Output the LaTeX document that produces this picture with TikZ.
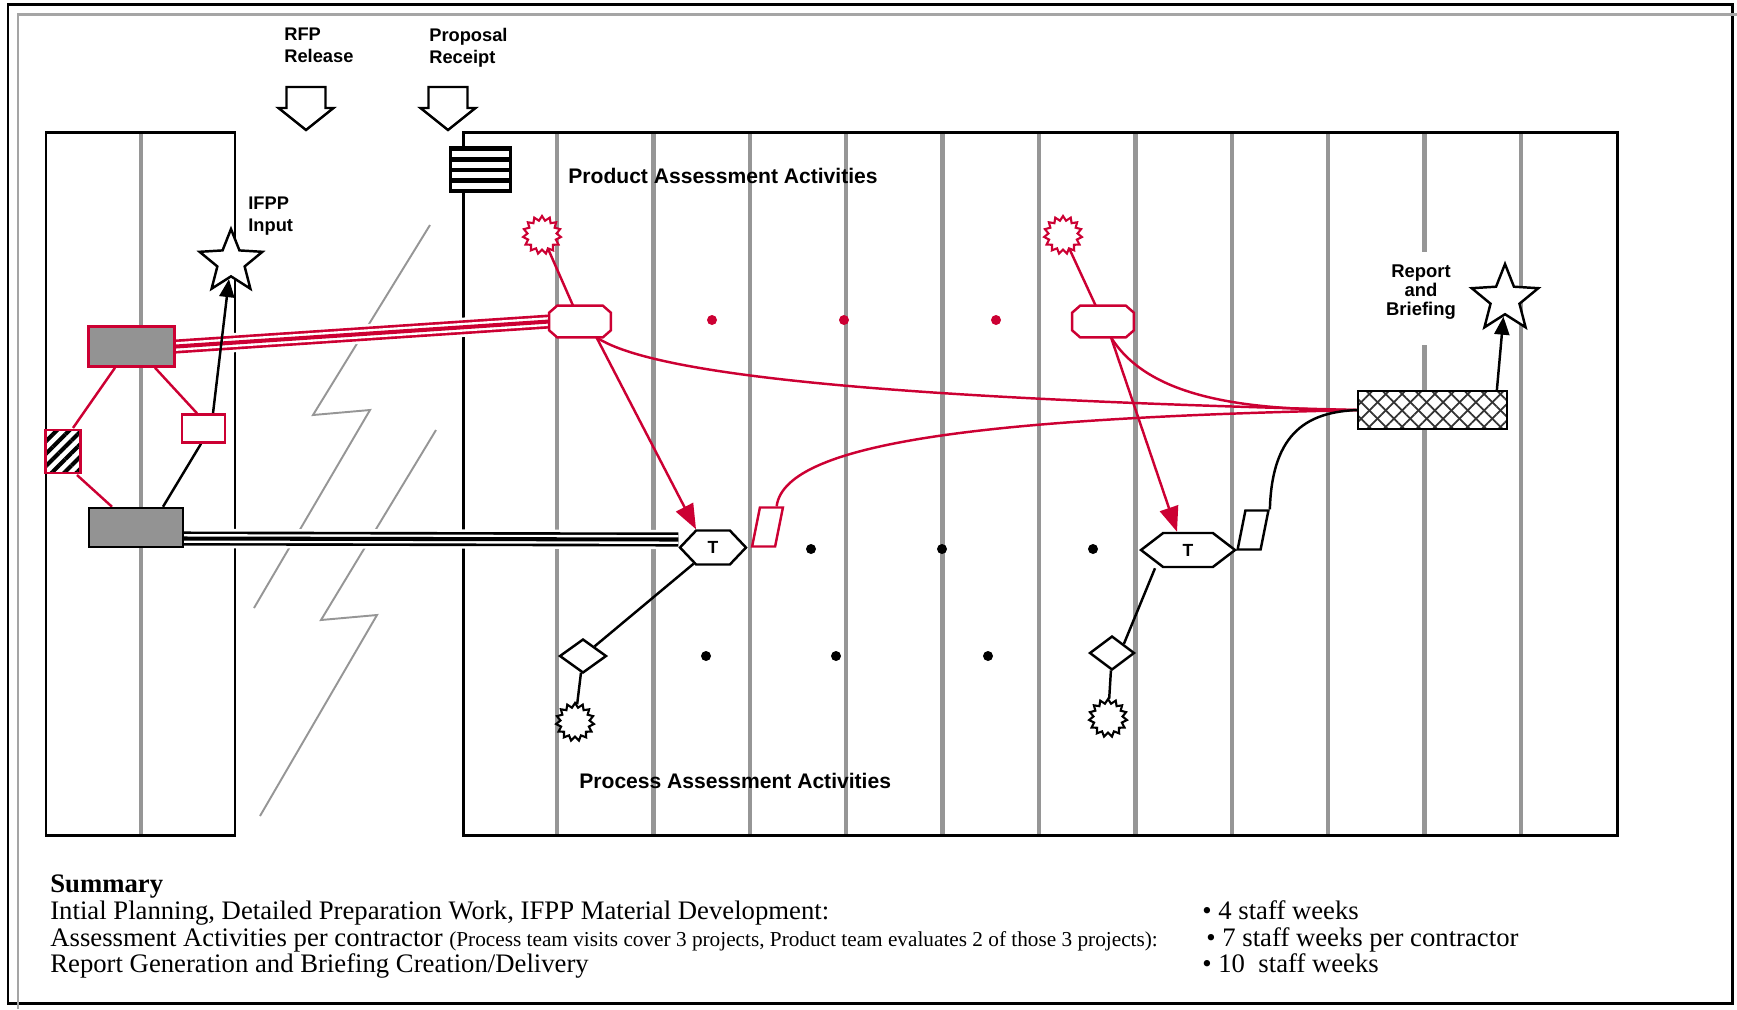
\documentclass[tikz,border=0pt]{standalone}
\usepackage{fontspec}
\setmainfont{Liberation Serif}
\setsansfont{Liberation Sans}
\usetikzlibrary{shapes,shapes.geometric,shapes.misc,shapes.symbols}
\usetikzlibrary{arrows.meta,patterns.meta,backgrounds}
\definecolor{lanegrey}{RGB}{150,150,150}
\definecolor{framegrey}{RGB}{165,165,165}
\definecolor{boxgrey}{RGB}{147,147,147}
\definecolor{rosso}{RGB}{204,0,51}
\tikzstyle{frame} = [black, line width=1.7pt]
\tikzstyle{lane} = [lanegrey, line width=2.5pt]
\tikzstyle{zigzag} = [lanegrey, line width=1.1pt]
\tikzstyle{redbox} = [rectangle, draw=rosso, line width=1.4pt, inner sep=0pt]
\tikzstyle{blackbox} = [rectangle, draw=black, line width=1.4pt, inner sep=0pt]
\tikzstyle{octo} = [rectangle, minimum width=1.22cm, minimum height=0.62cm, inner sep=0pt]
\tikzstyle{octoline} = [draw=rosso, fill=white, line width=1.4pt]
\tikzstyle{hexa} = [signal, signal to=east and west, draw=black, fill=white, line width=1.4pt,
  minimum height=0.68cm, inner sep=0pt, font=\sffamily\bfseries\fontsize{10}{12}\selectfont]
\tikzstyle{burst} = [star, star points=15, star point ratio=1.3, minimum size=0.76cm, inner sep=0pt,
  fill=white, line width=1.2pt]
\tikzstyle{milestone} = [star, star points=5, star point ratio=2.3, draw=black, fill=white,
  line width=1.4pt, inner sep=0pt]
\tikzstyle{dot} = [circle, inner sep=0pt, minimum size=0.2cm]
\tikzstyle{gate} = [diamond, draw=black, fill=white, line width=1.4pt, minimum width=0.94cm,
  minimum height=0.68cm, inner sep=0pt]
\tikzstyle{para} = [rectangle, xslant=0.2, fill=white, line width=1.4pt, minimum width=0.46cm,
  minimum height=0.78cm, inner sep=0pt]
\tikzstyle{hatchbox} = [rectangle, draw=black, line width=1.4pt, minimum width=2.98cm, minimum height=0.76cm,
  inner sep=0pt, preaction={fill=white},
  preaction={pattern={Lines[angle=45,distance=6.6pt,line width=1pt]}, pattern color=black!80},
  pattern={Lines[angle=-45,distance=6.6pt,line width=1pt]}, pattern color=black!80]
\tikzstyle{headline} = [font=\sffamily\bfseries\fontsize{10.4}{12.5}\selectfont, inner sep=0pt]
\tikzstyle{title} = [font=\sffamily\bfseries\fontsize{12}{14}\selectfont, inner sep=0pt, anchor=west]
\tikzstyle{summary} = [font=\fontsize{15.2}{18}\selectfont, inner sep=0pt, anchor=base west]
\tikzstyle{redline} = [rosso, line width=1.4pt]
\tikzstyle{blackline} = [black, line width=1.4pt]
\tikzstyle{redarrow} = [redline, -{Triangle[length=0.5cm,width=0.38cm]}]
\tikzstyle{blackarrow} = [blackline, -{Triangle[length=0.36cm,width=0.3cm]}]
\tikzstyle{redtriple} = [rosso, line width=8pt, preaction={draw=white, line width=11pt},
  postaction={draw=white, line width=5pt}, postaction={draw=rosso, line width=2.3pt}]
\tikzstyle{blacktriple} = [black, line width=8pt, preaction={draw=white, line width=11pt},
  postaction={draw=white, line width=5pt}, postaction={draw=black, line width=2.3pt}]
\begin{document}
\begin{tikzpicture}[x=0.02cm, y=-0.02cm]
\useasboundingbox (0,0) rectangle (1737,1009);

% milestones on top
\node[headline, anchor=west, align=left] (rfp) at (284,45) {RFP\\Release};
\node[headline, anchor=west, align=left] (prop) at (429,48) {Proposal\\Receipt};
\foreach \cx in {306,448}
  \draw[blackline, fill=white] ({\cx-19.5},87) -- ({\cx+19.5},87) -- ({\cx+19.5},108) -- ({\cx+27.5},108)
    -- (\cx,130) -- ({\cx-27.5},108) -- ({\cx-19.5},108) -- cycle;

% preparation block
\node[redbox, fill=boxgrey, minimum width=1.72cm, minimum height=0.8cm] (rg) at (131.5,346.5) {};
\node[blackbox, fill=boxgrey, minimum width=1.88cm, minimum height=0.78cm] (dk) at (136,527.5) {};
\node[redbox, minimum width=0.7cm, minimum height=0.86cm, preaction={fill=white},
  pattern={Lines[angle=45,distance=5pt,line width=2.3pt]}] (hs) at (63,451.5) {};
\node[redbox, fill=white, minimum width=0.86cm, minimum height=0.56cm] (wr) at (203.5,428.5) {};
\node[milestone, minimum size=1.32cm] (s1) at (231,262) {};
\node[headline, anchor=west, align=left] (ifpp) at (248,216) {IFPP\\Input};

% proposal receipt
\node[rectangle, fill=black, minimum width=1.26cm, minimum height=0.94cm, inner sep=0pt] (sb) at (480.5,169.5) {};
\foreach \k in {0,...,3}
  \fill[white] (452,{151+10.5*\k}) rectangle (509,{157+10.5*\k});

% product assessment
\node[title] (prod) at (568,176) {Product Assessment Activities};
\node[burst, draw=rosso] (r1) at (542,235) {};
\node[burst, draw=rosso] (r2) at (1063,235) {};
\node[octo] (o1) at (580,321.5) {};
\node[octo] (o2) at (1103,321.5) {};
\foreach \o in {o1,o2}
  \path[octoline] ([xshift=0.16cm]\o.north west) -- ([xshift=-0.16cm]\o.north east)
    -- ([yshift=-0.14cm]\o.north east) -- ([yshift=0.14cm]\o.south east)
    -- ([xshift=-0.16cm]\o.south east) -- ([xshift=0.16cm]\o.south west)
    -- ([yshift=0.14cm]\o.south west) -- ([yshift=-0.14cm]\o.north west) -- cycle;
\node[dot, fill=rosso] (p1) at (712,320) {};
\node[dot, fill=rosso] (p2) at (844,320) {};
\node[dot, fill=rosso] (p3) at (996,320) {};

% process assessment
\node[hexa, signal pointer angle=93, minimum width=1.32cm] (t1) at (713,547.5) {T};
\node[hexa, signal pointer angle=75, minimum width=1.88cm] (t2) at (1188,550) {T};
\node[para, draw=rosso] (rp) at (767.5,527) {};
\node[para, draw=black] (bp) at (1253,530) {};
\node[dot, fill=black] (q1) at (811,549) {};
\node[dot, fill=black] (q2) at (942,549) {};
\node[dot, fill=black] (q3) at (1093,549) {};
\node[dot, fill=black] (q4) at (706,656) {};
\node[dot, fill=black] (q5) at (836,656) {};
\node[dot, fill=black] (q6) at (988,656) {};
\node[gate] (d1) at (583,656) {};
\node[gate, minimum width=0.9cm] (d2) at (1112,653) {};
\node[burst, draw=black] (b1) at (575,722) {};
\node[burst, draw=black] (b2) at (1108,718) {};
\node[title] (proc) at (579,781) {Process Assessment Activities};

% report
\node[hatchbox] (xh) at (1432.5,410) {};
\node[milestone, minimum size=1.4cm] (s2) at (1505,299) {};
\node[headline, align=center, font=\sffamily\bfseries\fontsize{10.5}{10.8}\selectfont] (rep) at (1421,292) {Report\\and\\Briefing};

% summary
\node[summary] (sum0) at (50,892) {\bfseries Summary};
\node[summary] (sum1) at (50,919) {Intial Planning, Detailed Preparation Work, IFPP Material Development:};
\node[summary] (sum2) at (50,946) {Assessment Activities per contractor {\fontsize{12.1}{14}\selectfont(Process team visits cover 3 projects, Product team evaluates 2 of those 3 projects):}};
\node[summary] (sum3) at (50,972) {Report Generation and Briefing Creation/Delivery};
\node[summary] (w1) at (1202,919) {\textbullet\ 4 staff weeks};
\node[summary] (w2) at (1206,946) {\textbullet\ 7 staff weeks per contractor};
\node[summary] (w3) at (1202,972) {\textbullet\ 10~ staff weeks};

\begin{scope}[on background layer]
  % frames and lanes
  \draw[frame] (8,4) rectangle (1732,1003);
  \draw[framegrey, line width=1.7pt] (18,1009) -- (18,14) -- (1737,14);
  \draw[lane] (141,132) -- (141,835);
  \foreach \i in {0,...,10}
    \draw[lane] ({557+96.4*\i},132) -- ({557+96.4*\i},835);
  \fill[white] (1405,252) rectangle (1445,345);
  \draw[frame] (46,132) rectangle (235,835);
  \draw[frame] (463,132) rectangle (1617,835);
  \draw[zigzag] (430,225) -- (313,415) -- (370,410) -- (254,608);
  \draw[zigzag] (436,430) -- (321,620) -- (377,615) -- (260,816);

  % links
  \draw[redtriple] (rg.east) -- (o1.west);
  \draw[blacktriple] ([yshift=-0.22cm]dk.east) -- ([yshift=0.16cm]t1.west);
  \draw[redline] ([xshift=-0.33cm]rg.south) -- ([xshift=0.2cm]hs.north);
  \draw[redline] ([xshift=0.47cm]rg.south) -- ([xshift=-0.13cm]wr.north);
  \draw[redline] ([xshift=0.28cm]hs.south) -- ([xshift=-0.48cm]dk.north);
  \draw[blackline] ([xshift=0.54cm]dk.north) -- ([xshift=-0.05cm]wr.south);
  \draw[blackarrow] ([xshift=0.19cm]wr.north) -- (s1);
  \draw[redline] (r1) -- (o1);
  \draw[redline] (r2) -- (o2);
  \draw[redarrow] ([xshift=0.33cm]o1.south) -- ([xshift=-0.34cm]t1.north);
  \draw[redarrow] ([xshift=0.16cm]o2.south) -- ([xshift=-0.22cm]t2.north);
  \draw[redline] ([xshift=0.33cm]o1.south) .. controls (660,380) and (950,400) .. (xh.west);
  \draw[redline] ([xshift=0.16cm]o2.south) .. controls (1150,400) and (1250,410) .. (xh.west);
  \draw[redline] ([xshift=0.1cm]rp.north) .. controls (785,440) and (1000,418) .. (xh.west);
  \draw[blackline] (bp.north east) .. controls (1272,430) and (1310,412) .. (xh.west);
  \draw[blackarrow] ([xshift=-0.22cm]xh.north east) -- (s2);
  \draw[blackline] (t1) -- (d1);
  \draw[blackline] (d1) -- (b1);
  \draw[blackline] ([xshift=-0.66cm]t2.south) -- (d2.north east);
  \draw[blackline] (d2) -- (b2);
\end{scope}
\end{tikzpicture}
\end{document}
